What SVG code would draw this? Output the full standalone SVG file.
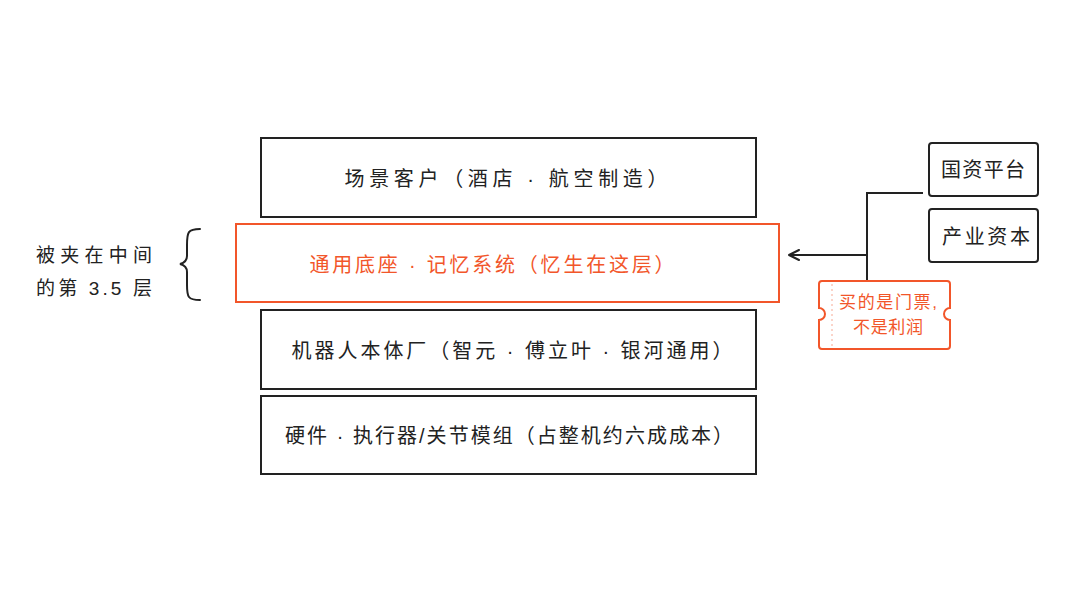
<svg xmlns="http://www.w3.org/2000/svg" width="1080" height="608" viewBox="0 0 1080 608">
<defs>
<style>
.box{fill:#fff;stroke:#222;stroke-width:2}
.obox{fill:#fff;stroke:#f2562a;stroke-width:2}
.t{font-family:"Liberation Sans","Noto Sans CJK SC",sans-serif;font-size:20px;fill:#222;text-anchor:middle;dominant-baseline:central}
.ot{fill:#f2562a}
.line{fill:none;stroke:#222;stroke-width:2}
</style>
<marker id="arr" viewBox="0 0 12 12" refX="11" refY="6" markerWidth="12" markerHeight="12" markerUnits="userSpaceOnUse" orient="auto">
<path d="M1 1 L11 6 L1 11" fill="none" stroke="#222" stroke-width="2" stroke-linecap="round" stroke-linejoin="round"/>
</marker>
</defs>
<rect width="1080" height="608" fill="#fff"/>
<g id="connectors">
<path class="line" d="M923 193 H867 V281"/>
<path class="line" d="M867 255 H789" marker-end="url(#arr)"/>
<path class="line" d="M200 229 C188 229 187 232 187 245 L187 256 C187 261 184 263 180 264 C184 265 187 267 187 272 L187 285 C187 297 188 300 200 300" stroke-linecap="round"/>
</g>
<g id="layer-scene">
<rect class="box" x="261" y="138" width="495" height="79"/>
<text class="t" x="506" y="179" textLength="323" lengthAdjust="spacing">场景客户（酒店 · 航空制造）</text>
</g>
<g id="layer-platform">
<rect class="obox" x="236" y="224" width="543" height="78"/>
<text class="t ot" x="492" y="265" textLength="365" lengthAdjust="spacing">通用底座 · 记忆系统（忆生在这层）</text>
</g>
<g id="layer-robot">
<rect class="box" x="261" y="310" width="495" height="79"/>
<text class="t" x="512" y="351" textLength="441" lengthAdjust="spacing">机器人本体厂（智元 · 傅立叶 · 银河通用）</text>
</g>
<g id="layer-hardware">
<rect class="box" x="261" y="396" width="495" height="78"/>
<text class="t" x="509" y="436" textLength="448" lengthAdjust="spacing">硬件 · 执行器/关节模组（占整机约六成成本）</text>
</g>
<g id="label-left">
<text class="t" x="94" y="255" style="font-size:19px" textLength="116" lengthAdjust="spacing">被夹在中间</text>
<text class="t" x="94" y="288" style="font-size:19px" textLength="116" lengthAdjust="spacing">的第 3.5 层</text>
</g>
<g id="guozi">
<rect class="box" x="929" y="143" width="109" height="53" rx="3"/>
<text class="t" x="983" y="170" textLength="84" lengthAdjust="spacing">国资平台</text>
</g>
<g id="chanye">
<rect class="box" x="929" y="209" width="109" height="53" rx="3"/>
<text class="t" x="986" y="237" textLength="88" lengthAdjust="spacing">产业资本</text>
</g>
<g id="ticket">
<path d="M822 281 H947 Q950 281 950 284 V308 A6 6 0 0 0 950 320 V346 Q950 349 947 349 H822 Q819 349 819 346 V320 A6 6 0 0 0 819 308 V284 Q819 281 822 281 Z" fill="#fff" stroke="#f2562a" stroke-width="2"/>
<line x1="832" y1="284" x2="832" y2="346" stroke="#f2562a" stroke-width="1" stroke-dasharray="2 3" opacity="0.5"/>
<text class="t ot" x="888" y="302" style="font-size:17px" textLength="98" lengthAdjust="spacing">买的是门票,</text>
<text class="t ot" x="888" y="327" style="font-size:17px" textLength="70" lengthAdjust="spacing">不是利润</text>
</g>
</svg>
